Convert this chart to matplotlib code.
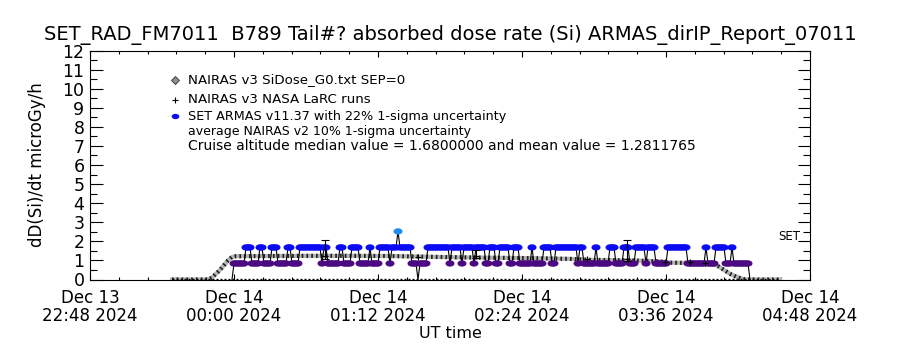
import numpy as np
import matplotlib
matplotlib.use("Agg")
import matplotlib.pyplot as plt
from matplotlib.path import Path
from matplotlib.ticker import FixedLocator, MultipleLocator

plt.rcParams['font.family'] = ['DejaVu Sans']

# ---- data (time axis in minutes after 2024-12-13 22:48 UT) ----
tick_minutes = [0, 72, 144, 216, 288, 360]
tick_labels = ["Dec 13\n22:48 2024", "Dec 14\n00:00 2024", "Dec 14\n01:12 2024",
               "Dec 14\n02:24 2024", "Dec 14\n03:36 2024", "Dec 14\n04:48 2024"]

# NAIRAS v3 SiDose_G0 model profile
nairas_min = [41, 50, 59, 61, 63, 65, 67, 69, 71, 73, 90, 110, 130, 150, 165, 180,
              200, 220, 240, 250, 270, 285, 290, 305, 311, 314, 317, 320, 323,
              326, 328, 345]
nairas_dose = [0.0, 0.0, 0.0, 0.1, 0.3, 0.5, 0.75, 1.0, 1.18, 1.22, 1.23, 1.24,
               1.24, 1.23, 1.2, 1.17, 1.14, 1.12, 1.08, 1.03, 1.0, 0.95, 0.88,
               0.86, 0.84, 0.7, 0.5, 0.3, 0.15, 0.04, 0.0, 0.0]

# NAIRAS v3 NASA LaRC runs
larc_window_min = [41, 345]
larc_window_dose = [0.0, 0.0]
larc_min = [117.5, 164, 193, 248.5, 268.5, 287.5, 300, 307.5]
larc_dose = [1.25, 1.2, 1.25, 1.07, 1.05, 0.92, 0.9, 0.86]
larc_err_min = [117.5, 193, 268.5]
larc_err_lo = [1.05, 1.15, 0.95]
larc_err_hi = [2.05, 1.55, 2.05]

# SET ARMAS v11.37, one reading per minute starting at minute 71;
# each digit indexes armas_levels (microGy/h)
armas_start_min = 71
armas_levels = [0.0, 0.84, 1.68, 2.52]
armas_codes = ("0111111222" "1111221111" "2221111122" "1111222222" "2222212211"
               "1111221111" "2222111112" "1111222221" "2223222222" "1110111122"
               "2222222221" "2222212222" "2122222112" "2211222221" "1222111111"
               "2111112222" "1122222222" "2221221111" "1121111112" "2211112221"
               "1122222122" "2211111122" "2222222211" "1111111211" "1122222111"
               "2111111110")
armas_colors = ["#000000", "#4b0a82", "#0a0af5", "#1e8cf0"]

legend_lines = ["NAIRAS v3 SiDose_G0.txt SEP=0",
                "NAIRAS v3 NASA LaRC runs",
                "SET ARMAS v11.37 with 22% 1-sigma uncertainty",
                "average NAIRAS v2 10% 1-sigma uncertainty",
                "Cruise altitude median value = 1.6800000 and mean value = 1.2811765"]
legend_sizes = [9.6, 9.6, 9.2, 9.0, 10.0]

title = "SET_RAD_FM7011  B789 Tail#? absorbed dose rate (Si) ARMAS_dirIP_Report_07011"

# ---- figure ----
fig = plt.figure(figsize=(9, 3.5), dpi=100)
ax = fig.add_axes([90 / 900, 70.5 / 350, 720 / 900, 229 / 350])
ax.set_xlim(0, 360)
ax.set_ylim(0, 12)

# ellipse marker for ARMAS readings
theta = np.linspace(0, 2 * np.pi, 40)
ell = Path(np.column_stack([np.cos(theta), 0.7 * np.sin(theta)]), closed=True)

# LaRC baseline run window
ax.plot(larc_window_min, larc_window_dose, color='k', lw=2.4, dashes=(0.6, 0.6),
        solid_capstyle='butt', zorder=3)

# NAIRAS G0 band: grey body with a dark stipple
ax.plot(nairas_min, nairas_dose, color='#b4b4b4', lw=3.0, zorder=2,
        solid_joinstyle='round')
ax.plot(nairas_min, nairas_dose, color='#202020', lw=3.0, dashes=(0.4, 0.75),
        zorder=2)

# ARMAS series
codes = [int(c) for c in armas_codes]
armas_min = armas_start_min + np.arange(len(codes))
armas_dose = np.array([armas_levels[c] for c in codes])
ax.plot(armas_min, armas_dose, color='k', lw=0.8, zorder=4)
pos = armas_dose > 0
ax.scatter(armas_min[pos], armas_dose[pos], marker=ell, s=42,
           c=[armas_colors[c] for c in codes if c > 0], linewidths=0, zorder=5)

# LaRC points and uncertainty bars
ax.plot(larc_min, larc_dose, '+', color='k', ms=4, mew=0.8, zorder=6)
for t, lo, hi in zip(larc_err_min, larc_err_lo, larc_err_hi):
    ax.errorbar([t], [(lo + hi) / 2], yerr=[[(hi - lo) / 2], [(hi - lo) / 2]],
                fmt='none', ecolor='k', elinewidth=0.8, capsize=3, capthick=0.8,
                zorder=6)

ax.text(355, 2.23, "SET", ha='right', va='center', fontsize=8.5)

# legend block
lx, tx = 0.118, 0.136
ly = [10.46, 9.41, 8.56, 7.78, 6.99]
ax.plot([lx], [ly[0]], 'D', transform=ax.get_yaxis_transform(), ms=4,
        mfc='#909090', mec='#303030', mew=0.6)
ax.plot([lx], [ly[1]], '+', transform=ax.get_yaxis_transform(), ms=5, mew=0.8,
        color='k')
ax.scatter([lx], [ly[2]], marker=ell, s=30, c=armas_colors[2], linewidths=0,
           transform=ax.get_yaxis_transform())
for y, s, fs in zip(ly, legend_lines, legend_sizes):
    ax.text(tx, y, s, transform=ax.get_yaxis_transform(), fontsize=fs,
            va='center', ha='left')

# axes styling
ax.xaxis.set_major_locator(FixedLocator(tick_minutes))
ax.xaxis.set_minor_locator(MultipleLocator(14.4))
ax.set_xticklabels(tick_labels, fontsize=12, linespacing=1.0)
ax.yaxis.set_major_locator(MultipleLocator(1))
ax.yaxis.set_minor_locator(MultipleLocator(0.5))
ax.tick_params(axis='both', which='both', direction='in', top=True, right=True,
               color='k', width=0.8)
ax.tick_params(axis='y', which='major', length=9, labelsize=12.5, pad=4)
ax.tick_params(axis='y', which='minor', length=5)
ax.tick_params(axis='x', which='major', length=4.5, pad=7)
ax.tick_params(axis='x', which='minor', length=2.2)
for sp in ax.spines.values():
    sp.set_linewidth(0.8)

ylabels = ax.get_yticklabels()
ylabels[0].set_va('bottom')
ylabels[-1].set_va('top')

ax.set_ylabel("dD(Si)/dt microGy/h", fontsize=12)
ax.yaxis.set_label_coords(-0.061, 0.5)

fig.text(0.5, 1 - 35 / 350, title, ha='center', va='center', fontsize=14)
fig.text(0.5, 1 - 333 / 350, "UT time", ha='center', va='center', fontsize=11.5)

fig.savefig("out.png", dpi=100, facecolor='white')
